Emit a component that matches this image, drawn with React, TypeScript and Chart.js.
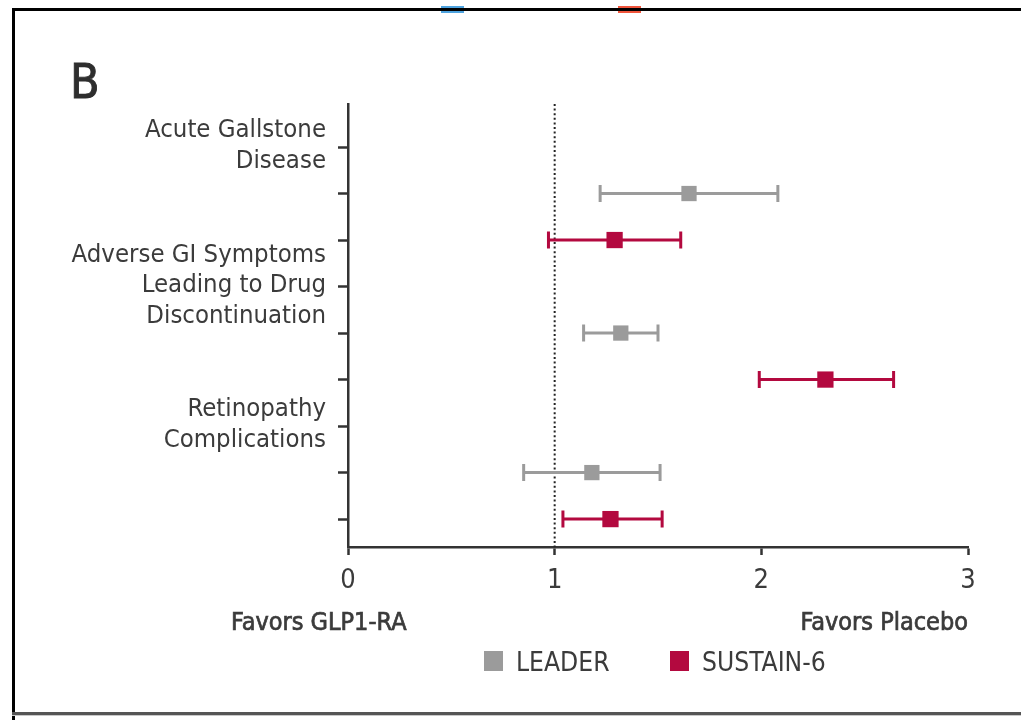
import React, { useEffect, useRef } from "react";
import { Chart, registerables } from "chart.js";

Chart.register(...registerables);

// Outcome labels and the row (on the vertical position scale) each is centred on
const outcomeLabels = [
  ["Acute Gallstone", "Disease"],
  ["Adverse GI Symptoms", "Leading to Drug", "Discontinuation"],
  ["Retinopathy", "Complications"],
];
const outcomeRows = [1, 4, 7];

// Trial series: row, hazard ratio and 95% CI
const trialNames = ["LEADER", "SUSTAIN-6"];
const leaderRows = [2, 5, 8];
const leaderHR = [1.65, 1.32, 1.18];
const leaderLow = [1.22, 1.14, 0.85];
const leaderHigh = [2.08, 1.5, 1.51];
const sustainRows = [3, 6, 9];
const sustainHR = [1.29, 2.31, 1.27];
const sustainLow = [0.97, 1.99, 1.04];
const sustainHigh = [1.61, 2.64, 1.52];

const rowTicks = [1, 2, 3, 4, 5, 6, 7, 8, 9];
const xTickValues = [0, 1, 2, 3];
const nullValue = 1;
const sideNotes = ["Favors GLP1-RA", "Favors Placebo"];
const panelLetter = "B";

const GREY = "#9b9b9b";
const CRIMSON = "#b3093f";
const INK = "#3b3b3b";
const AXIS = "#333333";
const FONT = "'DejaVu Sans Condensed', 'Liberation Sans Narrow', sans-serif";

const W = 1021;
const H = 720;

const seriesPoints = (rows: number[], hr: number[], lo: number[], hi: number[]) =>
  rows.map((r, i) => ({ x: hr[i], y: r, lo: lo[i], hi: hi[i] }));

const errorBarPlugin = {
  id: "errorBars",
  beforeDatasetsDraw(chart: any) {
    const { ctx, scales } = chart;
    const xs = scales.x;
    const ys = scales.y;
    ctx.save();
    // reference line at HR = 1
    const x1 = xs.getPixelForValue(nullValue);
    ctx.strokeStyle = "#222";
    ctx.lineWidth = 2;
    ctx.setLineDash([2, 2.6]);
    ctx.beginPath();
    ctx.moveTo(x1, chart.chartArea.top);
    ctx.lineTo(x1, chart.chartArea.bottom);
    ctx.stroke();
    ctx.setLineDash([]);

    chart.data.datasets.forEach((ds: any) => {
      ctx.strokeStyle = ds.backgroundColor;
      ctx.lineWidth = 3;
      ds.data.forEach((p: any) => {
        const y = ys.getPixelForValue(p.y);
        const a = xs.getPixelForValue(p.lo);
        const b = xs.getPixelForValue(p.hi);
        ctx.beginPath();
        ctx.moveTo(a, y);
        ctx.lineTo(b, y);
        ctx.moveTo(a, y - 8.5);
        ctx.lineTo(a, y + 8.5);
        ctx.moveTo(b, y - 8.5);
        ctx.lineTo(b, y + 8.5);
        ctx.stroke();
      });
    });
    ctx.restore();
  },
};

// fills text and traces it with a thin outline for a slightly heavier weight
function heavyText(ctx: CanvasRenderingContext2D, t: string, x: number, y: number, w: number) {
  ctx.fillText(t, x, y);
  ctx.lineWidth = w;
  ctx.strokeStyle = ctx.fillStyle as string;
  ctx.strokeText(t, x, y);
}

const decorPlugin = {
  id: "decor",
  afterDraw(chart: any) {
    const { ctx, scales } = chart;
    const ys = scales.y;
    const xs = scales.x;
    ctx.save();

    // outcome labels to the left of the vertical axis
    ctx.fillStyle = INK;
    ctx.font = `25.5px ${FONT}`;
    ctx.textAlign = "right";
    ctx.textBaseline = "middle";
    outcomeLabels.forEach((lines, i) => {
      const cy = ys.getPixelForValue(outcomeRows[i]) - 1;
      const lh = 30.5;
      lines.forEach((t, j) => {
        ctx.fillText(t, 326, cy + (j - (lines.length - 1) / 2) * lh);
      });
    });

    // panel letter
    ctx.font = `48px ${FONT}`;
    ctx.textAlign = "left";
    ctx.textBaseline = "alphabetic";
    ctx.fillStyle = "#2e2e2e";
    heavyText(ctx, panelLetter, 70, 98, 0.9);

    // direction notes under the axis
    ctx.font = `25px ${FONT}`;
    ctx.fillStyle = INK;
    ctx.textAlign = "left";
    heavyText(ctx, sideNotes[0], 231, 630, 0.7);
    ctx.textAlign = "right";
    heavyText(ctx, sideNotes[1], xs.getPixelForValue(3), 630, 0.7);

    // legend
    ctx.font = `26.2px ${FONT}`;
    ctx.textAlign = "left";
    const legendX = [484, 670];
    chart.data.datasets.forEach((ds: any, i: number) => {
      ctx.fillStyle = ds.backgroundColor;
      ctx.fillRect(legendX[i], 651, 19, 20);
      ctx.fillStyle = INK;
      ctx.fillText(ds.label, legendX[i] + 32, 671);
    });

    // clipped legend swatches of the panel above
    ctx.fillStyle = "#4ea3df";
    ctx.fillRect(441, 6, 23, 7);
    ctx.fillStyle = "#f0553c";
    ctx.fillRect(618, 6, 23, 7);

    // frame
    ctx.fillStyle = "#000";
    ctx.fillRect(12, 8, W - 12, 3);
    ctx.fillRect(12, 8, 3, H - 8);
    ctx.fillStyle = "#555";
    ctx.fillRect(12, 712, W - 12, 3);
    ctx.fillStyle = "#c8c8c8";
    ctx.fillRect(12, 715, W - 12, 1);

    ctx.restore();
  },
};

export default function App() {
  const ref = useRef<HTMLCanvasElement | null>(null);

  useEffect(() => {
    if (!ref.current) return;
    const chart = new Chart(ref.current, {
      type: "scatter",
      data: {
        datasets: [
          {
            label: trialNames[0],
            data: seriesPoints(leaderRows, leaderHR, leaderLow, leaderHigh),
            backgroundColor: GREY,
            borderWidth: 0,
            pointStyle: "rect",
            pointRadius: 10.8,
            pointHoverRadius: 10.8,
          },
          {
            label: trialNames[1],
            data: seriesPoints(sustainRows, sustainHR, sustainLow, sustainHigh),
            backgroundColor: CRIMSON,
            borderWidth: 0,
            pointStyle: "rect",
            pointRadius: 11.5,
            pointHoverRadius: 11.5,
          },
        ] as any,
      },
      options: {
        responsive: false,
        animation: false,
        layout: { padding: { left: 338, right: 53, top: 104, bottom: 128 } },
        plugins: {
          legend: { display: false },
          tooltip: { enabled: false },
        },
        scales: {
          x: {
            type: "linear",
            min: 0,
            max: 3,
            afterBuildTicks: (s: any) => {
              s.ticks = xTickValues.map((v) => ({ value: v }));
            },
            afterFit: (s: any) => {
              s.height = 45;
            },
            ticks: {
              color: INK,
              font: { family: FONT, size: 27 },
              padding: 10,
            },
            grid: {
              drawOnChartArea: false,
              drawTicks: true,
              tickLength: 8,
              tickWidth: 2.5,
              tickColor: AXIS,
            },
            border: { display: true, color: AXIS, width: 2.5 },
          },
          y: {
            type: "linear",
            reverse: true,
            min: 0.075,
            max: 9.6,
            afterBuildTicks: (s: any) => {
              s.ticks = rowTicks.map((v) => ({ value: v }));
            },
            afterFit: (s: any) => {
              s.width = 10;
            },
            ticks: { display: false },
            grid: {
              drawOnChartArea: false,
              drawTicks: true,
              tickLength: 10,
              tickWidth: 2.5,
              tickColor: AXIS,
            },
            border: { display: true, color: AXIS, width: 2.5 },
          },
        },
      } as any,
      plugins: [errorBarPlugin, decorPlugin],
    });
    return () => chart.destroy();
  }, []);

  return (
    <div style={{ position: "fixed", left: 0, top: 0, width: W, height: H, background: "#fff" }}>
      <canvas ref={ref} width={W} height={H} style={{ display: "block" }} />
    </div>
  );
}
